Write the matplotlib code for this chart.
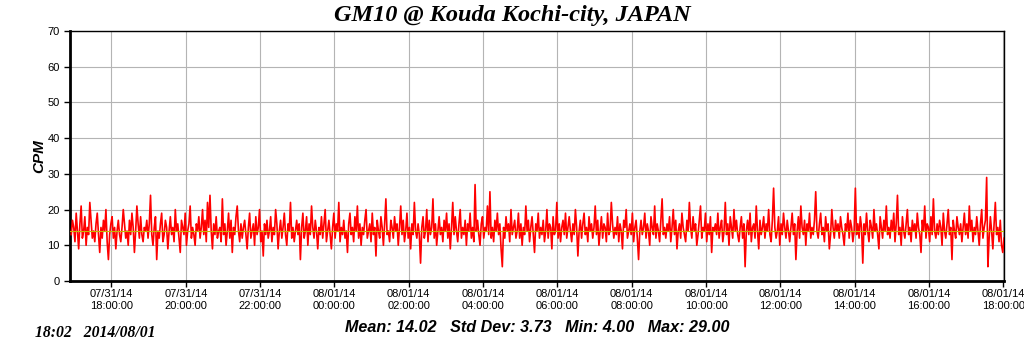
import matplotlib
matplotlib.use('Agg')
import matplotlib.pyplot as plt
import matplotlib.dates as mdates
import pandas as pd

# counts per minute, one reading every 2 minutes from 07/31 16:55
cpm = [
    13, 17, 15, 11, 19, 14, 9, 16, 21, 12, 14, 18, 10, 15, 13, 22, 17, 12, 14, 11,
    16, 19, 13, 8, 15, 12, 17, 14, 20, 11, 6, 13, 16, 18, 12, 15, 9, 14, 17, 13,
    11, 15, 20, 16, 12, 14, 10, 17, 13, 19, 15, 8, 14, 21, 16, 12, 18, 13, 11, 15,
    14, 17, 12, 16, 24, 13, 10, 15, 18, 6, 14, 12, 16, 19, 11, 13, 17, 15, 9, 14,
    18, 13, 15, 11, 20, 14, 16, 12, 8, 17, 15, 13, 19, 10, 14, 16, 21, 12, 15, 13,
    10, 16, 14, 18, 12, 15, 20, 13, 17, 11, 22, 15, 24, 14, 9, 16, 13, 18, 12, 14,
    15, 11, 23, 13, 16, 10, 14, 19, 12, 17, 8, 15, 13, 18, 21, 14, 11, 16, 12, 15,
    17, 13, 9, 15, 19, 12, 14, 16, 10, 18, 13, 15, 20, 11, 14, 7, 16, 13, 17, 12,
    14, 18, 11, 15, 13, 20, 16, 9, 14, 17, 12, 15, 19, 13, 10, 16, 14, 22, 12, 15,
    11, 14, 17, 13, 16, 6, 15, 19, 12, 14, 18, 10, 16, 13, 21, 15, 12, 17, 14, 9,
    15, 13, 18, 12, 16, 20, 11, 14, 17, 13, 9, 15, 19, 12, 16, 14, 22, 11, 15, 13,
    17, 12, 14, 8, 16, 19, 13, 15, 11, 18, 14, 21, 12, 16, 10, 15, 13, 17, 20, 12,
    14, 16, 11, 19, 13, 15, 7, 17, 14, 12, 18, 15, 10, 16, 23, 13, 14, 11, 17, 15,
    12, 18, 14, 16, 10, 15, 21, 13, 17, 11, 14, 19, 12, 15, 9, 16, 13, 22, 14, 12,
    16, 13, 5, 15, 18, 12, 14, 20, 11, 17, 13, 15, 23, 12, 16, 10, 14, 18, 13, 15,
    11, 17, 14, 19, 12, 16, 9, 15, 22, 13, 18, 14, 11, 16, 20, 12, 15, 13, 17, 10,
    16, 14, 19, 12, 15, 11, 27, 14, 17, 13, 10, 16, 18, 12, 15, 14, 21, 13, 25, 12,
    15, 11, 17, 14, 19, 13, 16, 9, 4, 15, 12, 18, 14, 16, 11, 20, 13, 15, 17, 12,
    14, 19, 12, 16, 10, 15, 13, 21, 14, 17, 11, 15, 18, 13, 8, 16, 14, 19, 12, 15,
    13, 17, 11, 14, 20, 12, 16, 15, 9, 18, 13, 14, 22, 12, 16, 11, 15, 17, 13, 19,
    12, 15, 18, 14, 11, 16, 13, 20, 15, 7, 14, 17, 12, 16, 19, 13, 15, 11, 18, 14,
    16, 12, 15, 21, 13, 17, 10, 14, 18, 12, 16, 15, 11, 19, 13, 14, 22, 16, 12, 15,
    13, 18, 11, 16, 14, 9, 17, 15, 20, 12, 14, 16, 13, 19, 11, 15, 17, 12, 6, 14,
    17, 13, 15, 19, 12, 16, 14, 10, 18, 15, 13, 21, 12, 16, 14, 11, 17, 23, 13, 15,
    12, 16, 14, 18, 11, 15, 20, 13, 17, 9, 14, 16, 12, 19, 15, 13, 11, 17, 14, 22,
    15, 12, 18, 14, 16, 10, 13, 17, 21, 12, 15, 14, 19, 11, 16, 13, 18, 8, 15, 14,
    16, 13, 19, 12, 15, 17, 11, 14, 22, 13, 16, 10, 18, 15, 12, 20, 14, 17, 13, 11,
    15, 18, 12, 16, 4, 14, 17, 13, 19, 11, 15, 16, 12, 21, 14, 9, 17, 13, 15, 18,
    12, 16, 14, 20, 13, 11, 17, 26, 15, 12, 14, 18, 10, 16, 13, 19, 15, 12, 17, 14,
    11, 15, 19, 13, 16, 6, 14, 18, 12, 21, 15, 13, 17, 10, 16, 14, 19, 12, 15, 13,
    17, 25, 14, 12, 16, 19, 13, 15, 11, 18, 14, 16, 9, 13, 20, 15, 12, 17, 14, 16,
    12, 18, 15, 13, 10, 16, 14, 19, 12, 17, 15, 11, 14, 26, 13, 16, 12, 18, 15, 5,
    16, 13, 19, 14, 11, 17, 15, 12, 20, 14, 16, 13, 9, 18, 15, 12, 17, 14, 21, 13,
    15, 12, 17, 14, 19, 11, 16, 24, 13, 15, 10, 18, 14, 12, 16, 20, 13, 15, 11, 17,
    14, 16, 12, 19, 15, 13, 8, 17, 14, 21, 12, 16, 15, 11, 18, 13, 23, 14, 12, 16,
    13, 17, 15, 10, 19, 14, 12, 16, 20, 13, 15, 6, 17, 14, 12, 18, 15, 13, 16, 11,
    15, 19, 13, 16, 12, 21, 14, 17, 11, 15, 13, 18, 14, 10, 16, 20, 12, 15, 17, 29,
    4, 12, 18, 14, 9, 16, 22, 13, 15, 11, 17, 10, 8, 12,
]
start_time = '2014-07-31 16:55'
mean_cpm = 14.02
stats_text = 'Mean: 14.02   Std Dev: 3.73   Min: 4.00   Max: 29.00'
stamp_text = '18:02   2014/08/01'
title = 'GM10 @ Kouda Kochi-city, JAPAN'

times = pd.date_range(start_time, periods=len(cpm), freq='2min')

fig = plt.figure(figsize=(10.24, 3.51), dpi=100)
ax = fig.add_axes([70 / 1024, 1 - 281 / 351, 934 / 1024, 250 / 351])

ax.plot(times, cpm, color='#ff0000', lw=1.2, zorder=3)
ax.axhline(mean_cpm, color='#c8b400', lw=0.8, zorder=4)

ax.set_ylim(0, 70)
ax.set_yticks(range(0, 71, 10))
ax.set_xlim(pd.Timestamp('2014-07-31 16:53'), pd.Timestamp('2014-08-01 18:01'))
ax.xaxis.set_major_locator(mdates.HourLocator(byhour=range(0, 24, 2)))
ax.xaxis.set_major_formatter(mdates.DateFormatter('%m/%d/%y\n%H:%M:%S'))

ax.grid(True, color='#b4b4b4', lw=0.8, zorder=0)
ax.tick_params(axis='both', direction='out', length=4, width=1, labelsize=8,
               colors='black')
ax.tick_params(axis='x', pad=2)
for lab in ax.get_xticklabels() + ax.get_yticklabels():
    lab.set_family('Liberation Sans')
    lab.set_linespacing(1.25)

for side in ['left', 'bottom']:
    ax.spines[side].set_linewidth(2)
for side in ['top', 'right']:
    ax.spines[side].set_linewidth(1)

ax.set_ylabel('CPM', family='Liberation Sans', weight='bold', style='italic',
              fontsize=11, labelpad=1)

fig.text(0.5, 1 - 16 / 351, title, ha='center', va='center',
         family='Liberation Serif', weight='bold', style='italic', fontsize=17.5)
fig.text(35 / 1024, 1 - 333 / 351, stamp_text, ha='left', va='center',
         family='Liberation Serif', weight='bold', style='italic', fontsize=11.3)
fig.text(345 / 1024, 1 - 327 / 351, stats_text, ha='left', va='center',
         family='Liberation Sans', weight='bold', style='italic', fontsize=11.6)

fig.savefig('out.png', dpi=100)
